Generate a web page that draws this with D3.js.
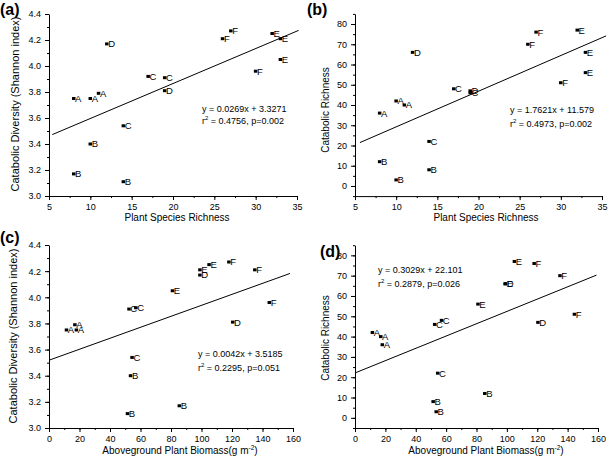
<!DOCTYPE html>
<meta charset="utf-8">
<script src="https://d3js.org/d3.v7.min.js"></script>
<style>
  body { margin: 0; background: #fff; }
  text { font-family: "Liberation Sans", Arial, Helvetica, sans-serif; fill: #000; }
  .axis path, .axis line { stroke: #000; stroke-width: 1; }
</style>
<div id="chart"></div>
<script>

// the 17 sampled plots (site group, plant data, catabolic data)
var groups          = ["A", "A", "A", "B", "B", "B", "C", "C", "C", "D", "D", "E", "E", "E", "F", "F", "F"];
var speciesRichness = [8, 10, 11, 8, 10, 14, 14, 17, 19, 12, 19, 32, 33, 33, 26, 27, 30];
var biomass         = [18, 11.5, 17, 85.5, 53.5, 51.5, 54.5, 57, 52.5, 99, 120.5, 105, 99, 81, 135, 118, 144.5];
var shannon         = [3.75, 3.75, 3.79, 3.17, 3.40, 3.11, 3.54, 3.92, 3.91, 4.17, 3.81, 4.25, 4.21, 4.05, 4.21, 4.27, 3.96];
var catRichness     = [36, 42, 40, 12, 3, 8, 22, 48, 46, 66, 47, 77, 66, 56, 70, 76, 51];

// regression lines for panels a-d
var fitSlope     = [0.0269, 1.7621, 0.0042, 0.3029];
var fitIntercept = [3.3271, 11.579, 3.5185, 22.101];
var fitFrom      = [5.4, 5.6, 0, 0];
var fitTo        = [35.2, 35.5, 158, 159];
var fitEquation  = ["y = 0.0269x + 3.3271", "y = 1.7621x + 11.579", "y = 0.0042x + 3.5185", "y = 0.3029x + 22.101"];
var fitR2        = ["0.4756", "0.4973", "0.2295", "0.2879"];
var fitP         = ["0.002", "0.002", "0.051", "0.026"];

// axis ticks
var speciesTicks = [5, 10, 15, 20, 25, 30, 35];
var biomassTicks = [0, 20, 40, 60, 80, 100, 120, 140, 160];
var shannonTicks = [3.0, 3.2, 3.4, 3.6, 3.8, 4.0, 4.2, 4.4];
var catTicks     = [0, 10, 20, 30, 40, 50, 60, 70, 80];

var width = 611, height = 461;

var svg = d3.select("#chart").append("svg")
    .attr("width", width)
    .attr("height", height);

// panel layout
var panels = [
  { tag: "(a)", tagX: 0, tagY: 15, xs: speciesRichness, ys: shannon,
    xDom: [5, 35], xRange: [49, 297], xTicks: speciesTicks, xMinor: 2.5, xFmt: d3.format("d"),
    yDom: [3.0, 4.4], yRange: [196, 14], yTicks: shannonTicks, yMinor: 0.1, yFmt: d3.format(".1f"),
    xTitle: "Plant Species Richness", xTitleX: 177, xTitleY: 221,
    yTitle: "Catabolic Diversity (Shannon index)", yTitleX: 19, yTitleY: 104, yTitleSize: 11,
    eqX: 202, eqY: [111.5, 124] },
  { tag: "(b)", tagX: 307, tagY: 15, xs: speciesRichness, ys: catRichness,
    xDom: [5, 35], xRange: [355, 602], xTicks: speciesTicks, xMinor: 2.5, xFmt: d3.format("d"),
    yDom: [-5, 85], yRange: [196.1, 13.9], yTicks: catTicks, yMinor: 5, yFmt: d3.format("d"),
    xTitle: "Plant Species Richness", xTitleX: 486, xTitleY: 221,
    yTitle: "Catabolic Richness", yTitleX: 329, yTitleY: 110, yTitleSize: 10,
    eqX: 510, eqY: [112.5, 127] },
  { tag: "(c)", tagX: 0, tagY: 243, xs: biomass, ys: shannon,
    xDom: [0, 160], xRange: [49, 293], xTicks: biomassTicks, xMinor: 10, xFmt: d3.format("d"),
    yDom: [3.0, 4.4], yRange: [428, 245], yTicks: shannonTicks, yMinor: 0.1, yFmt: d3.format(".1f"),
    xTitle: "Aboveground Plant Biomass(g m", xTitleX: 180, xTitleY: 454,
    yTitle: "Catabolic Diversity (Shannon index)", yTitleX: 17, yTitleY: 336, yTitleSize: 11,
    eqX: 198, eqY: [357, 370.5] },
  { tag: "(d)", tagX: 320, tagY: 257, xs: biomass, ys: catRichness,
    xDom: [0, 160], xRange: [355, 598], xTicks: biomassTicks, xMinor: 10, xFmt: d3.format("d"),
    yDom: [-5, 85], yRange: [428, 245.2], yTicks: catTicks, yMinor: 5, yFmt: d3.format("d"),
    xTitle: "Aboveground Plant Biomass(g m", xTitleX: 486, xTitleY: 454,
    yTitle: "Catabolic Richness", yTitleX: 329, yTitleY: 338, yTitleSize: 10,
    eqX: 378, eqY: [273, 286.5] }
];

function minorValues(dom, step) {
  var out = [];
  var n = Math.round((dom[1] - dom[0]) / step);
  for (var i = 0; i <= n; i++) out.push(dom[0] + i * step);
  return out;
}

panels.forEach(function(p, k) {
  var g = svg.append("g");

  var x = d3.scaleLinear().domain(p.xDom).range(p.xRange);
  var y = d3.scaleLinear().domain(p.yDom).range(p.yRange);
  var x0 = p.xRange[0], y0 = p.yRange[0];

  // minor ticks first
  g.append("g").attr("class", "axis")
      .attr("transform", "translate(0," + y0 + ")")
      .call(d3.axisBottom(x).tickValues(minorValues(p.xDom, p.xMinor)).tickSize(2).tickSizeOuter(0).tickFormat(""))
      .select(".domain").remove();
  g.append("g").attr("class", "axis")
      .attr("transform", "translate(" + x0 + ",0)")
      .call(d3.axisLeft(y).tickValues(minorValues(p.yDom, p.yMinor)).tickSize(2).tickSizeOuter(0).tickFormat(""))
      .select(".domain").remove();

  // major ticks + axis lines
  var xa = g.append("g").attr("class", "axis")
      .attr("transform", "translate(0," + y0 + ")")
      .call(d3.axisBottom(x).tickValues(p.xTicks).tickSize(4).tickSizeOuter(0).tickPadding(4).tickFormat(p.xFmt));
  var ya = g.append("g").attr("class", "axis")
      .attr("transform", "translate(" + x0 + ",0)")
      .call(d3.axisLeft(y).tickValues(p.yTicks).tickSize(4).tickSizeOuter(0).tickPadding(4).tickFormat(p.yFmt));
  xa.selectAll("text").attr("font-size", 9).attr("font-family", null).attr("fill", "#000");
  ya.selectAll("text").attr("font-size", 9).attr("font-family", null).attr("fill", "#000");

  // regression line
  g.append("line")
      .attr("x1", x(fitFrom[k]))
      .attr("y1", y(fitSlope[k] * fitFrom[k] + fitIntercept[k]))
      .attr("x2", x(fitTo[k]))
      .attr("y2", y(fitSlope[k] * fitTo[k] + fitIntercept[k]))
      .attr("stroke", "#000")
      .attr("stroke-width", 1);

  // points with group letters
  var pts = g.selectAll(".pt")
      .data(groups.map(function(d, i) { return { g: d, x: p.xs[i], y: p.ys[i] }; }))
      .enter().append("g")
      .attr("transform", function(d) { return "translate(" + x(d.x) + "," + y(d.y) + ")"; });
  pts.append("rect")
      .attr("x", -1.8).attr("y", -1.5)
      .attr("width", 3.5).attr("height", 3)
      .attr("fill", "#000");
  pts.append("text")
      .attr("x", 1.3)
      .attr("dy", "0.36em")
      .attr("font-size", 9.5)
      .attr("fill", "#000")
      .text(function(d) { return d.g; });

  // equation
  g.append("text")
      .attr("x", p.eqX).attr("y", p.eqY[0])
      .attr("font-size", 9)
      .text(fitEquation[k]);
  var r = g.append("text")
      .attr("x", p.eqX).attr("y", p.eqY[1])
      .attr("font-size", 9);
  r.append("tspan").text("r");
  r.append("tspan").attr("font-size", 6).attr("dy", -4).text("2");
  r.append("tspan").attr("dy", 4).text(" = " + fitR2[k] + ", p=" + fitP[k]);

  // axis titles
  var xt = g.append("text")
      .attr("x", p.xTitleX).attr("y", p.xTitleY)
      .attr("text-anchor", "middle")
      .attr("font-size", 10);
  xt.append("tspan").text(p.xTitle);
  if (k >= 2) {
    xt.append("tspan").attr("font-size", 6.5).attr("dy", -4).text("-2");
    xt.append("tspan").attr("dy", 4).text(")");
  }

  g.append("text")
      .attr("transform", "translate(" + p.yTitleX + "," + p.yTitleY + ") rotate(-90)")
      .attr("text-anchor", "middle")
      .attr("font-size", p.yTitleSize)
      .text(p.yTitle);

  // panel tag
  g.append("text")
      .attr("x", p.tagX).attr("y", p.tagY)
      .attr("font-size", 16)
      .attr("font-weight", "bold")
      .text(p.tag);
});

</script>
